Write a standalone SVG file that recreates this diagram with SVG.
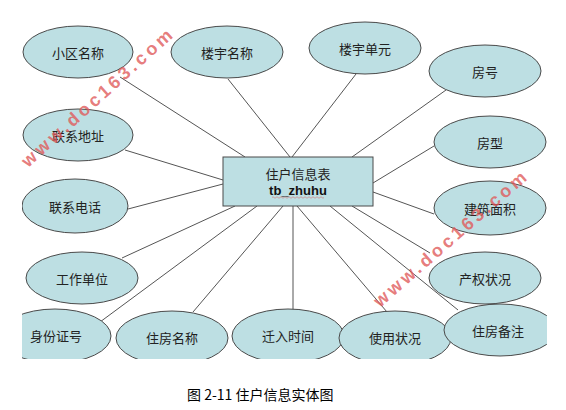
<svg xmlns="http://www.w3.org/2000/svg" width="566" height="410" viewBox="0 0 566 410">
<style>
.e{fill:#bddfe3;stroke:#4a4a4a;stroke-width:1}
.t{font-family:"Noto Sans CJK SC","Liberation Sans",sans-serif;font-size:13px;fill:#222;text-anchor:middle;dominant-baseline:central}
.c line{stroke:#555;stroke-width:1}
.wm{font-family:"Liberation Sans",sans-serif;font-weight:bold;font-size:18px;fill:#e05a5a;fill-opacity:0.8;letter-spacing:3.5px}
</style>
<defs>
<clipPath id="clip"><rect x="22" y="0" width="525" height="359"/></clipPath>
</defs>
<rect width="566" height="410" fill="#fff"/>
<g clip-path="url(#clip)">
<g class="c" id="connectors">
<line x1="120" y1="77" x2="245" y2="157"/>
<line x1="228" y1="79" x2="290" y2="157"/>
<line x1="356" y1="74" x2="292" y2="157"/>
<line x1="446" y1="90" x2="352" y2="157"/>
<line x1="434" y1="146" x2="373" y2="183"/>
<line x1="125" y1="150" x2="223" y2="180"/>
<line x1="128" y1="209" x2="223" y2="184"/>
<line x1="122" y1="258" x2="235" y2="206"/>
<line x1="100" y1="322" x2="257" y2="206"/>
<line x1="193" y1="312" x2="283" y2="206"/>
<line x1="293" y1="310" x2="293" y2="206"/>
<line x1="387" y1="312" x2="297" y2="206"/>
<line x1="458" y1="310" x2="330" y2="206"/>
<line x1="430" y1="253" x2="352" y2="206"/>
<line x1="434" y1="214" x2="373" y2="192"/>
</g>
<g id="n_main">
<rect x="223" y="157" width="150" height="49" class="e"/>
<text x="298" y="173" class="t">住户信息表</text>
<text x="298" y="190" style="font-family:'Liberation Sans',sans-serif;font-weight:bold;font-size:13px;fill:#111;text-anchor:middle;dominant-baseline:central">tb_zhuhu</text>
<path d="M272 197.5 q1 -1.5 2 0 t2 0 t2 0 t2 0 t2 0 t2 0 t2 0 t2 0 t2 0 t2 0 t2 0 t2 0 t2 0 t2 0 t2 0 t2 0 t2 0 t2 0 t2 0 t2 0 t2 0 t2 0 t2 0 t2 0 t2 0 t2 0" fill="none" stroke="#d08080" stroke-width="0.7"/>
</g>
<g id="n1"><ellipse cx="78" cy="52" rx="55" ry="26" class="e"/><text x="78" y="52" class="t">小区名称</text></g>
<g id="n2"><ellipse cx="227" cy="52" rx="56" ry="26" class="e"/><text x="227" y="52" class="t">楼宇名称</text></g>
<g id="n3"><ellipse cx="365" cy="48" rx="56" ry="26" class="e"/><text x="365" y="48" class="t">楼宇单元</text></g>
<g id="n4"><ellipse cx="485" cy="71" rx="56" ry="26" class="e"/><text x="485" y="71" class="t">房号</text></g>
<g id="n5"><ellipse cx="490" cy="142" rx="56" ry="26" class="e"/><text x="490" y="142" class="t">房型</text></g>
<g id="n6"><ellipse cx="78" cy="135" rx="55" ry="26" class="e"/><text x="78" y="135" class="t">联系地址</text></g>
<g id="n7"><ellipse cx="75" cy="206" rx="53" ry="27" class="e"/><text x="75" y="206" class="t">联系电话</text></g>
<g id="n8"><ellipse cx="82" cy="278" rx="56" ry="26" class="e"/><text x="82" y="278" class="t">工作单位</text></g>
<g id="n9"><ellipse cx="55" cy="336" rx="56" ry="27" class="e"/><text x="56" y="335" class="t">身份证号</text></g>
<g id="n10"><ellipse cx="172" cy="338" rx="56" ry="27" class="e"/><text x="172" y="337" class="t">住房名称</text></g>
<g id="n11"><ellipse cx="288" cy="336" rx="56" ry="27" class="e"/><text x="288" y="335" class="t">迁入时间</text></g>
<g id="n12"><ellipse cx="395" cy="338" rx="56" ry="27" class="e"/><text x="395" y="337" class="t">使用状况</text></g>
<g id="n13"><ellipse cx="500" cy="330" rx="56" ry="26" class="e"/><text x="498" y="330" class="t">住房备注</text></g>
<g id="n14"><ellipse cx="485" cy="278" rx="56" ry="26" class="e"/><text x="485" y="278" class="t">产权状况</text></g>
<g id="n15"><ellipse cx="490" cy="208" rx="56" ry="27" class="e"/><text x="490" y="208" class="t">建筑面积</text></g>
</g>
<text class="wm" transform="translate(28,168) rotate(-42)">www.doc163.com</text>
<text class="wm" transform="translate(380,308) rotate(-41)">www.doc163.com</text>
<text x="187" y="400" style="font-family:'Noto Sans CJK SC',sans-serif;font-size:14px;fill:#000">图 2-11 住户信息实体图</text>
</svg>
